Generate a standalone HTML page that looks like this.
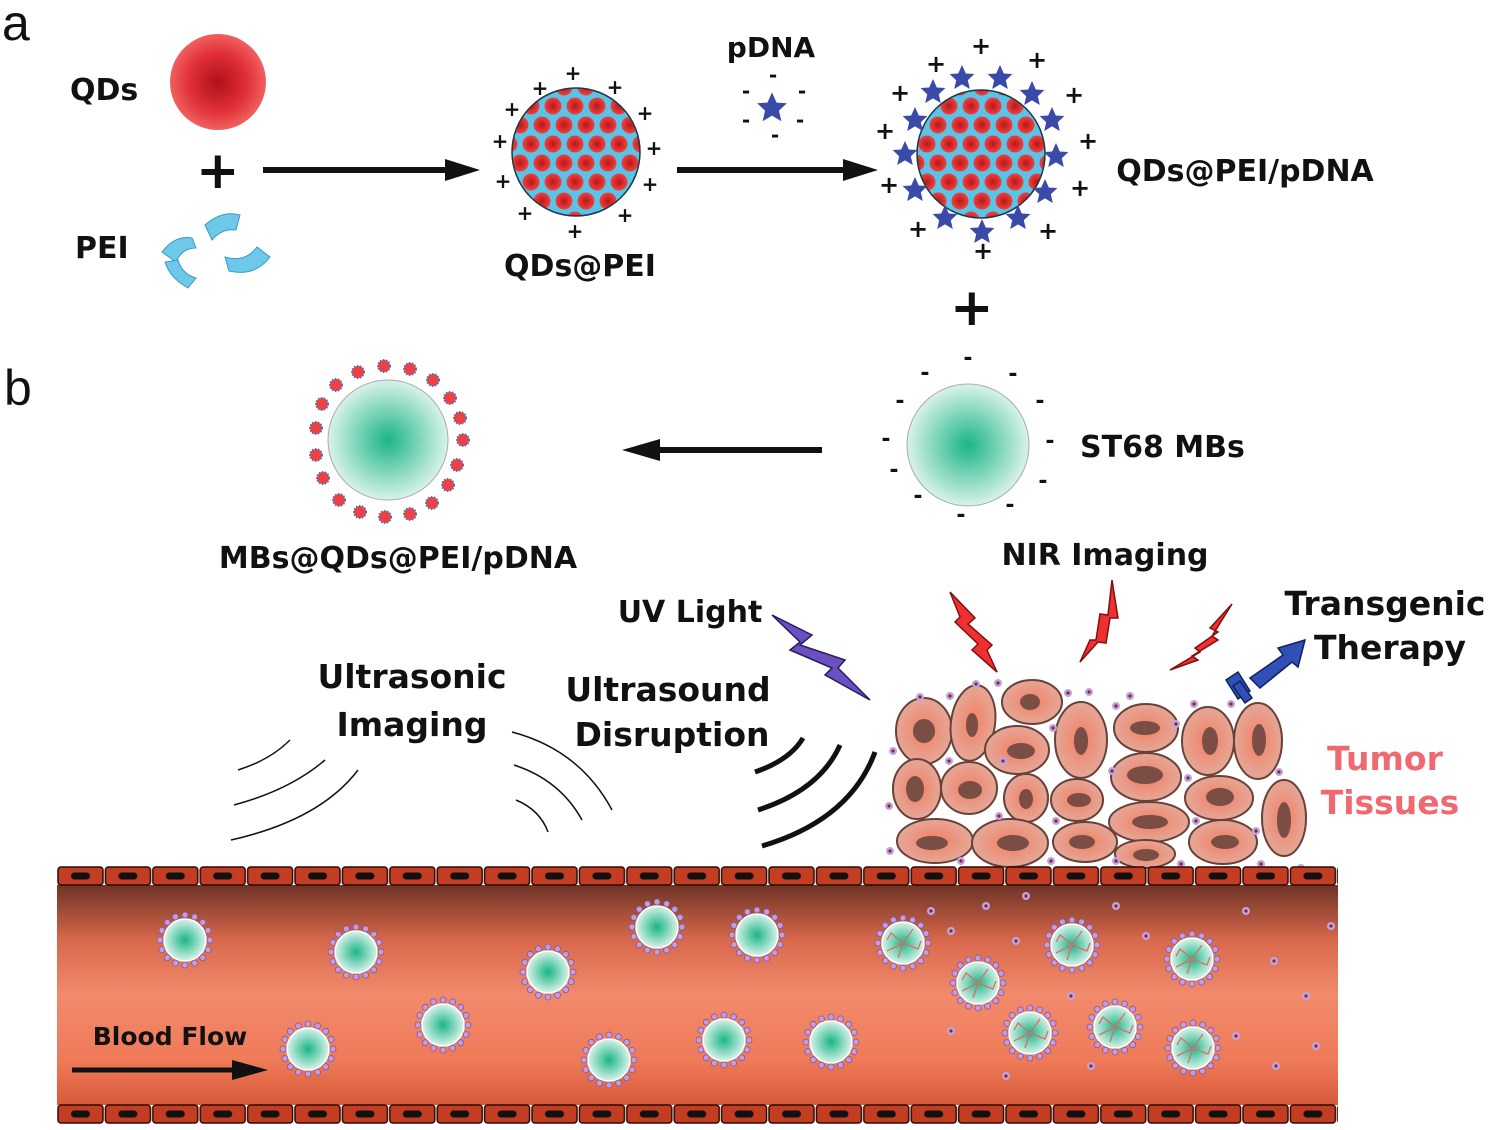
<!DOCTYPE html>
<html><head><meta charset="utf-8"><style>
html,body{margin:0;padding:0;background:#fff}
svg{display:block}
text{font-family:"DejaVu Sans","Liberation Sans",sans-serif;font-weight:bold;fill:#111}
text.ab{font-family:"Liberation Sans",sans-serif;font-weight:normal}
</style></head><body>
<svg width="1500" height="1130" viewBox="0 0 1500 1130" xmlns="http://www.w3.org/2000/svg">
<defs>
<radialGradient id="qd" cx="50%" cy="50%" r="50%"><stop offset="0" stop-color="#b0101a"/><stop offset="0.6" stop-color="#e03035"/><stop offset="1" stop-color="#f06060"/></radialGradient>
<radialGradient id="mb" cx="50%" cy="50%" r="50%"><stop offset="0" stop-color="#1ab585"/><stop offset="1" stop-color="#d8f2ea"/></radialGradient>
<radialGradient id="rd" cx="50%" cy="50%" r="50%"><stop offset="0" stop-color="#b81818"/><stop offset="1" stop-color="#f04040"/></radialGradient>
<linearGradient id="vessel" x1="0" y1="0" x2="0" y2="1"><stop offset="0" stop-color="#6e3326"/><stop offset="0.25" stop-color="#d8684c"/><stop offset="0.5" stop-color="#f28a6c"/><stop offset="0.8" stop-color="#ee7a58"/><stop offset="1" stop-color="#d85a3a"/></linearGradient>
<radialGradient id="cell" cx="50%" cy="50%" r="50%"><stop offset="0" stop-color="#f47e62"/><stop offset="1" stop-color="#e4a898"/></radialGradient>
<pattern id="dots" width="22" height="38" patternUnits="userSpaceOnUse" x="3" y="2">
<circle cx="11" cy="9" r="8.5" fill="url(#rd)"/><circle cx="0" cy="28" r="8.5" fill="url(#rd)"/><circle cx="22" cy="28" r="8.5" fill="url(#rd)"/></pattern>
<pattern id="wallT" width="47.4" height="20" patternUnits="userSpaceOnUse" x="57" y="866">
<rect x="1" y="1" width="45" height="18" rx="3" fill="#c23d22" stroke="#2a0a05" stroke-width="1.5"/>
<rect x="14" y="6.5" width="19" height="7" rx="3.5" fill="#111"/></pattern>
<pattern id="wallB" width="47.4" height="20" patternUnits="userSpaceOnUse" x="57" y="1104">
<rect x="1" y="1" width="45" height="18" rx="3" fill="#c23d22" stroke="#2a0a05" stroke-width="1.5"/>
<rect x="14" y="6.5" width="19" height="7" rx="3.5" fill="#111"/></pattern>
<symbol id="bub" viewBox="-30 -30 60 60" overflow="visible">
<circle r="21" fill="url(#mb)" stroke="#fff" stroke-width="1.5"/>
<g fill="#c89ad8" stroke="#7a5aa0" stroke-width="0.8">
<circle cx="25" cy="0" r="3"/><circle cx="23.1" cy="9.6" r="3"/><circle cx="17.7" cy="17.7" r="3"/><circle cx="9.6" cy="23.1" r="3"/><circle cx="0" cy="25" r="3"/><circle cx="-9.6" cy="23.1" r="3"/><circle cx="-17.7" cy="17.7" r="3"/><circle cx="-23.1" cy="9.6" r="3"/><circle cx="-25" cy="0" r="3"/><circle cx="-23.1" cy="-9.6" r="3"/><circle cx="-17.7" cy="-17.7" r="3"/><circle cx="-9.6" cy="-23.1" r="3"/><circle cx="0" cy="-25" r="3"/><circle cx="9.6" cy="-23.1" r="3"/><circle cx="17.7" cy="-17.7" r="3"/><circle cx="23.1" cy="-9.6" r="3"/></g>
</symbol>
<symbol id="burst" viewBox="-30 -30 60 60" overflow="visible">
<use href="#bub" x="-30" y="-30" width="60" height="60"/>
<g stroke="#e06a6a" stroke-width="1.3" fill="none"><path d="M0 0 L-12 -10 L-16 -3 M0 0 L10 -14 M0 0 L15 6 L18 -2 M0 0 L-5 15 M0 0 L-16 8"/></g>
</symbol>
<symbol id="np" viewBox="-6 -6 12 12" overflow="visible"><circle r="4" fill="#b8a8e0"/><circle r="1.6" fill="#a01830"/></symbol>
<clipPath id="c1"><circle cx="576" cy="152" r="64"/></clipPath>
<clipPath id="c2"><circle cx="981" cy="154" r="64"/></clipPath>
<polygon id="star" points="0,-13 3.8,-4.5 12.4,-4 5.8,2.2 7.8,11 0,6.4 -7.8,11 -5.8,2.2 -12.4,-4 -3.8,-4.5" fill="#3a4aa8"/>
</defs>

<!-- panel a -->
<text class="ab" x="2" y="40" font-size="50">a</text>
<text x="70" y="100" font-size="30">QDs</text>
<circle cx="218" cy="82" r="48" fill="url(#qd)"/>
<text x="196" y="188" font-size="52">+</text>
<text x="75" y="258" font-size="30">PEI</text>
<g fill="#6ec8ea" stroke="#3a9ac0" stroke-width="1">
<path d="M162 252 Q175 235 192 238 L196 248 Q182 248 176 262 Z"/>
<path d="M188 278 Q170 268 165 252 L178 250 Q182 264 196 268 Z" transform="translate(0,10)"/>
<path d="M205 225 Q222 210 240 215 L236 230 Q222 228 212 240 Z"/>
<path d="M220 262 Q240 268 252 252 L265 262 Q250 282 224 276 Z" transform="translate(5,-5)"/>
</g>
<line x1="263" y1="170" x2="450" y2="170" stroke="#111" stroke-width="6"/>
<polygon points="445,159 480,170 445,181" fill="#111"/>

<circle cx="576" cy="152" r="64" fill="#5ac4e6"/>
<rect x="500" y="80" width="160" height="150" fill="url(#dots)" clip-path="url(#c1)"/>
<circle cx="576" cy="152" r="64" fill="none" stroke="#1a3a4a" stroke-width="1.5"/>
<g font-size="20" text-anchor="middle">
<text x="573" y="80">+</text><text x="540" y="95">+</text><text x="615" y="94">+</text><text x="512" y="116">+</text><text x="645" y="120">+</text><text x="500" y="148">+</text><text x="654" y="155">+</text><text x="503" y="188">+</text><text x="650" y="191">+</text><text x="525" y="220">+</text><text x="625" y="222">+</text><text x="575" y="238">+</text></g>
<text x="580" y="276" font-size="30" text-anchor="middle">QDs@PEI</text>

<text x="771" y="57" font-size="28" text-anchor="middle">pDNA</text>
<use href="#star" transform="translate(772,108) scale(1.2)"/>
<g font-size="20" text-anchor="middle"><text x="773" y="82">-</text><text x="746" y="98">-</text><text x="802" y="98">-</text><text x="746" y="127">-</text><text x="800" y="127">-</text><text x="775" y="142">-</text></g>
<line x1="677" y1="170" x2="848" y2="170" stroke="#111" stroke-width="6"/>
<polygon points="843,159 878,170 843,181" fill="#111"/>

<circle cx="981" cy="154" r="64" fill="#5ac4e6"/>
<rect x="910" y="85" width="150" height="140" fill="url(#dots)" clip-path="url(#c2)"/>
<circle cx="981" cy="154" r="64" fill="none" stroke="#1a3a4a" stroke-width="1.5"/>
<g>
<use href="#star" x="962" y="78"/><use href="#star" x="1000" y="78"/><use href="#star" x="933" y="92"/><use href="#star" x="1032" y="94"/><use href="#star" x="915" y="120"/><use href="#star" x="1052" y="120"/><use href="#star" x="905" y="154"/><use href="#star" x="1056" y="156"/><use href="#star" x="915" y="190"/><use href="#star" x="1045" y="192"/><use href="#star" x="945" y="218"/><use href="#star" x="1018" y="218"/><use href="#star" x="982" y="232"/></g>
<g font-size="24" text-anchor="middle">
<text x="981" y="54">+</text><text x="936" y="72">+</text><text x="1037" y="68">+</text><text x="900" y="101">+</text><text x="1074" y="103">+</text><text x="885" y="139">+</text><text x="1088" y="149">+</text><text x="889" y="193">+</text><text x="1080" y="196">+</text><text x="918" y="237">+</text><text x="1048" y="239">+</text><text x="983" y="259">+</text></g>
<text x="1245" y="181" font-size="30" text-anchor="middle">QDs@PEI/pDNA</text>
<text x="950" y="325" font-size="52">+</text>

<!-- panel b -->
<text class="ab" x="4" y="405" font-size="50">b</text>
<circle cx="968" cy="445" r="61" fill="url(#mb)" stroke="#aaa" stroke-width="1"/>
<g font-size="22" text-anchor="middle"><text x="968" y="365">-</text><text x="925" y="380">-</text><text x="1013" y="381">-</text><text x="900" y="408">-</text><text x="1040" y="408">-</text><text x="886" y="446">-</text><text x="1050" y="448">-</text><text x="894" y="477">-</text><text x="1043" y="488">-</text><text x="918" y="503">-</text><text x="1010" y="512">-</text><text x="961" y="522">-</text></g>
<text x="1080" y="457" font-size="30">ST68 MBs</text>
<line x1="822" y1="450" x2="655" y2="450" stroke="#111" stroke-width="6"/>
<polygon points="660,439 622,450 660,461" fill="#111"/>

<circle cx="388" cy="440" r="60" fill="url(#mb)" stroke="#aaa" stroke-width="1"/>
<g fill="#f04040" stroke="#5a6ab0" stroke-width="2" stroke-dasharray="1.5 1.5">
<circle cx="463" cy="440" r="6"/><circle cx="457" cy="465" r="6"/><circle cx="448" cy="485" r="6"/><circle cx="432" cy="503" r="6"/><circle cx="410" cy="514" r="6"/><circle cx="385" cy="517" r="6"/><circle cx="360" cy="512" r="6"/><circle cx="339" cy="500" r="6"/><circle cx="323" cy="478" r="6"/><circle cx="316" cy="455" r="6"/><circle cx="316" cy="428" r="6"/><circle cx="322" cy="404" r="6"/><circle cx="336" cy="385" r="6"/><circle cx="358" cy="372" r="6"/><circle cx="384" cy="366" r="6"/><circle cx="410" cy="369" r="6"/><circle cx="433" cy="380" r="6"/><circle cx="450" cy="398" r="6"/><circle cx="460" cy="418" r="6"/></g>
<text x="398" y="568" font-size="30" text-anchor="middle">MBs@QDs@PEI/pDNA</text>

<text x="1105" y="565" font-size="30" text-anchor="middle">NIR Imaging</text>
<text x="690" y="622" font-size="30" text-anchor="middle">UV Light</text>
<text x="1385" y="615" font-size="33" text-anchor="middle">Transgenic</text>
<text x="1390" y="659" font-size="33" text-anchor="middle">Therapy</text>
<text x="412" y="688" font-size="33" text-anchor="middle">Ultrasonic</text>
<text x="412" y="736" font-size="33" text-anchor="middle">Imaging</text>
<text x="668" y="701" font-size="33" text-anchor="middle">Ultrasound</text>
<text x="672" y="746" font-size="33" text-anchor="middle">Disruption</text>
<text x="1385" y="770" font-size="33" text-anchor="middle" style="fill:#ee6a70">Tumor</text>
<text x="1390" y="814" font-size="33" text-anchor="middle" style="fill:#ee6a70">Tissues</text>

<!-- lightning -->
<polygon points="772,615 812,635 800,645 845,660 838,668 870,700 825,675 832,668 790,650 800,642" fill="#6a50c0" stroke="#2a1a60" stroke-width="1.5"/>
<g fill="#f03030" stroke="#801010" stroke-width="1.5">
<polygon points="950,592 975,618 968,624 992,645 987,650 997,672 972,650 978,644 955,622 960,617"/>
<polygon points="1112,580 1108,615 1100,614 1096,640 1090,640 1080,662 1098,642 1106,643 1110,618 1118,618"/>
<polygon points="1232,604 1210,628 1218,632 1195,648 1200,652 1170,670 1198,660 1192,656 1218,640 1212,636"/>
</g>
<g fill="#3050b8" stroke="#102060" stroke-width="1.5">
<polygon points="1250,678 1283,655 1278,648 1305,640 1298,667 1292,662 1260,688"/>
<polygon points="1226,680 1238,672 1250,691 1238,699"/>
<polygon points="1233,686 1240,681 1252,698 1245,703"/>
</g>

<!-- sound arcs -->
<g fill="none" stroke="#111" stroke-width="1.5">
<path d="M238 770 Q270 760 290 740"/><path d="M234 805 Q290 790 325 760"/><path d="M231 840 Q320 820 358 770"/>
<path d="M512 732 Q580 750 612 810"/><path d="M514 765 Q560 780 582 820"/><path d="M516 800 Q540 810 548 832"/>
</g>
<g fill="none" stroke="#111" stroke-width="5">
<path d="M755 772 Q790 760 803 738"/><path d="M758 810 Q820 790 840 745"/><path d="M762 846 Q850 820 875 752"/>
</g>

<!-- tumor cells -->
<g stroke="#6a4038" stroke-width="2" fill="url(#cell)">
<ellipse cx="924" cy="731" rx="28" ry="33"/><ellipse cx="973" cy="723" rx="22" ry="38" transform="rotate(8 973 723)"/><ellipse cx="1032" cy="702" rx="30" ry="22"/><ellipse cx="1017" cy="750" rx="32" ry="24"/><ellipse cx="1081" cy="740" rx="26" ry="38"/><ellipse cx="1146" cy="728" rx="32" ry="24"/><ellipse cx="1208" cy="741" rx="26" ry="34"/><ellipse cx="1258" cy="741" rx="24" ry="38"/>
<ellipse cx="917" cy="789" rx="24" ry="30"/><ellipse cx="969" cy="788" rx="28" ry="26"/><ellipse cx="1026" cy="798" rx="22" ry="24"/><ellipse cx="1077" cy="800" rx="26" ry="21"/><ellipse cx="1146" cy="777" rx="35" ry="24"/><ellipse cx="1219" cy="798" rx="34" ry="22"/><ellipse cx="1284" cy="818" rx="22" ry="38"/>
<ellipse cx="935" cy="841" rx="38" ry="22"/><ellipse cx="1010" cy="843" rx="38" ry="24"/><ellipse cx="1085" cy="842" rx="32" ry="20"/><ellipse cx="1149" cy="822" rx="40" ry="20"/><ellipse cx="1145" cy="854" rx="30" ry="14"/><ellipse cx="1223" cy="842" rx="34" ry="22"/>
</g>
<g fill="#7a4e44">
<ellipse cx="924" cy="731" rx="11" ry="12"/><ellipse cx="972" cy="725" rx="6" ry="12"/><ellipse cx="1030" cy="702" rx="10" ry="8"/><ellipse cx="1021" cy="751" rx="14" ry="8"/><ellipse cx="1081" cy="741" rx="7" ry="14"/><ellipse cx="1145" cy="728" rx="15" ry="7"/><ellipse cx="1210" cy="741" rx="8" ry="14"/><ellipse cx="1259" cy="740" rx="7" ry="16"/>
<ellipse cx="915" cy="789" rx="9" ry="13"/><ellipse cx="970" cy="790" rx="12" ry="9"/><ellipse cx="1026" cy="799" rx="7" ry="10"/><ellipse cx="1079" cy="800" rx="12" ry="7"/><ellipse cx="1145" cy="775" rx="18" ry="9"/><ellipse cx="1220" cy="797" rx="14" ry="9"/><ellipse cx="1284" cy="820" rx="7" ry="18"/>
<ellipse cx="932" cy="843" rx="16" ry="7"/><ellipse cx="1013" cy="843" rx="16" ry="8"/><ellipse cx="1082" cy="842" rx="13" ry="7"/><ellipse cx="1150" cy="822" rx="18" ry="7"/><ellipse cx="1146" cy="855" rx="13" ry="6"/><ellipse cx="1225" cy="842" rx="14" ry="7"/>
</g>
<g>
<use href="#np" x="970" y="678" width="12" height="12"/><use href="#np" x="992" y="677" width="12" height="12"/><use href="#np" x="914" y="691" width="12" height="12"/><use href="#np" x="944" y="690" width="12" height="12"/><use href="#np" x="1062" y="687" width="12" height="12"/><use href="#np" x="1083" y="686" width="12" height="12"/><use href="#np" x="1124" y="690" width="12" height="12"/><use href="#np" x="1188" y="698" width="12" height="12"/><use href="#np" x="1225" y="698" width="12" height="12"/><use href="#np" x="887" y="745" width="12" height="12"/><use href="#np" x="1110" y="700" width="12" height="12"/><use href="#np" x="1170" y="718" width="12" height="12"/><use href="#np" x="1047" y="722" width="12" height="12"/><use href="#np" x="943" y="755" width="12" height="12"/><use href="#np" x="997" y="755" width="12" height="12"/><use href="#np" x="1106" y="765" width="12" height="12"/><use href="#np" x="1182" y="772" width="12" height="12"/><use href="#np" x="1273" y="766" width="12" height="12"/><use href="#np" x="883" y="800" width="12" height="12"/><use href="#np" x="993" y="810" width="12" height="12"/><use href="#np" x="1050" y="815" width="12" height="12"/><use href="#np" x="1190" y="815" width="12" height="12"/><use href="#np" x="1250" y="825" width="12" height="12"/><use href="#np" x="884" y="845" width="12" height="12"/><use href="#np" x="955" y="855" width="12" height="12"/><use href="#np" x="1045" y="855" width="12" height="12"/><use href="#np" x="1110" y="855" width="12" height="12"/><use href="#np" x="1175" y="858" width="12" height="12"/><use href="#np" x="1255" y="858" width="12" height="12"/><use href="#np" x="1295" y="862" width="12" height="12"/>
</g>

<!-- vessel -->
<rect x="57" y="885" width="1281" height="220" fill="url(#vessel)"/>
<rect x="57" y="866" width="1281" height="20" fill="url(#wallT)"/>
<rect x="57" y="1104" width="1281" height="20" fill="url(#wallB)"/>

<g>
<use href="#bub" x="155" y="910" width="60" height="60"/>
<use href="#bub" x="326" y="922" width="60" height="60"/>
<use href="#bub" x="518" y="942" width="60" height="60"/>
<use href="#bub" x="627" y="897" width="60" height="60"/>
<use href="#bub" x="727" y="905" width="60" height="60"/>
<use href="#bub" x="278" y="1019" width="60" height="60"/>
<use href="#bub" x="413" y="995" width="60" height="60"/>
<use href="#bub" x="579" y="1030" width="60" height="60"/>
<use href="#bub" x="694" y="1010" width="60" height="60"/>
<use href="#bub" x="801" y="1012" width="60" height="60"/>
<use href="#burst" x="873" y="913" width="60" height="60"/>
<use href="#burst" x="948" y="953" width="60" height="60"/>
<use href="#burst" x="1042" y="915" width="60" height="60"/>
<use href="#burst" x="1162" y="929" width="60" height="60"/>
<use href="#burst" x="1000" y="1003" width="60" height="60"/>
<use href="#burst" x="1085" y="997" width="60" height="60"/>
<use href="#burst" x="1163" y="1018" width="60" height="60"/>
</g>
<g>
<use href="#np" x="925" y="905" width="12" height="12"/><use href="#np" x="945" y="925" width="12" height="12"/><use href="#np" x="1010" y="935" width="12" height="12"/><use href="#np" x="1110" y="900" width="12" height="12"/><use href="#np" x="1140" y="930" width="12" height="12"/><use href="#np" x="1240" y="905" width="12" height="12"/><use href="#np" x="1268" y="955" width="12" height="12"/><use href="#np" x="1325" y="920" width="12" height="12"/><use href="#np" x="1300" y="990" width="12" height="12"/><use href="#np" x="1065" y="990" width="12" height="12"/><use href="#np" x="945" y="1025" width="12" height="12"/><use href="#np" x="1230" y="1030" width="12" height="12"/><use href="#np" x="1270" y="1060" width="12" height="12"/><use href="#np" x="1310" y="1040" width="12" height="12"/><use href="#np" x="1085" y="1060" width="12" height="12"/><use href="#np" x="1000" y="1070" width="12" height="12"/><use href="#np" x="980" y="900" width="12" height="12"/><use href="#np" x="1020" y="890" width="12" height="12"/></g>

<text x="170" y="1045" font-size="25" text-anchor="middle">Blood Flow</text>
<line x1="72" y1="1070" x2="240" y2="1070" stroke="#111" stroke-width="5"/>
<polygon points="232,1060 268,1070 232,1080" fill="#111"/>
</svg>
</body></html>
